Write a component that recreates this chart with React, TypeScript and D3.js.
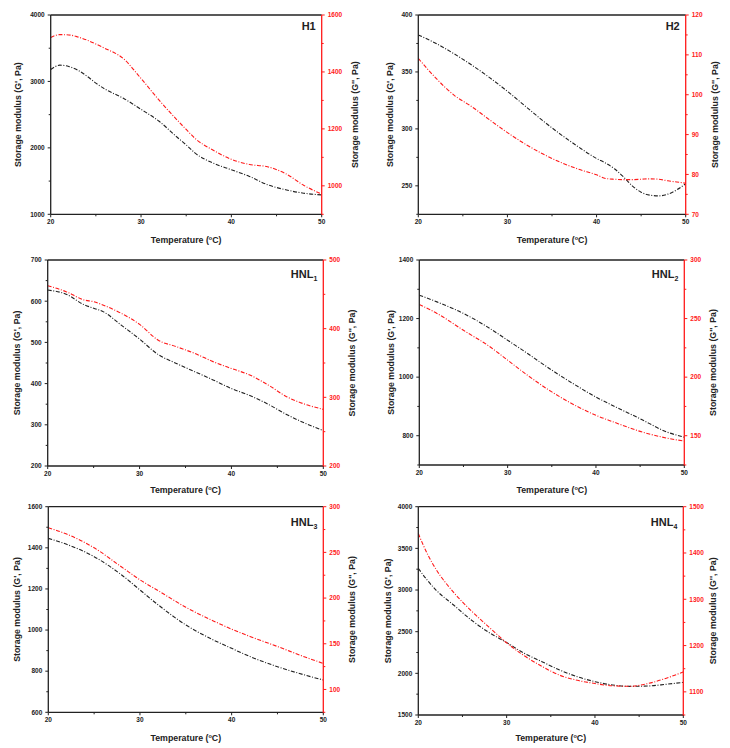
import React from "react";
import * as d3 from "d3";

// ---------- data ----------
const h1Temp = [20, 21, 22, 23, 24, 25, 26, 28, 30, 32, 34, 35, 36, 38, 40, 42, 44, 46, 48, 50];
const h1GPrime = [3180, 3245, 3225, 3170, 3080, 2975, 2885, 2750, 2580, 2400, 2160, 2045, 1920, 1770, 1670, 1570, 1445, 1370, 1318, 1292];
const h1GDouble = [1521, 1531, 1530, 1523, 1512, 1498, 1483, 1448, 1377, 1301, 1231, 1198, 1166, 1125, 1093, 1075, 1067, 1043, 1002, 971];

const h2Temp = [20, 22, 24, 26, 28, 30, 32, 34, 36, 38, 40, 41, 42, 43, 44, 45, 46, 47, 48, 49, 50];
const h2GPrime = [382.5, 375, 366, 356, 345, 333, 320, 307, 295, 284, 274, 270, 265, 258, 250, 244.4, 241.8, 241.2, 242.7, 246.5, 251.8];
const h2GDouble = [109.1, 104.1, 99.9, 97.0, 93.7, 90.5, 87.6, 85.1, 83.0, 81.3, 79.9, 79.0, 78.8, 78.7, 78.7, 78.8, 78.9, 78.8, 78.4, 78.1, 77.8];

const hnl1Temp = [20, 22, 24, 25, 26, 28, 30, 32, 34, 36, 38, 40, 42, 44, 46, 48, 50];
const hnl1GPrime = [627, 617, 591, 583, 575, 542, 508, 471, 449, 429, 409, 388, 371, 350, 325, 304, 286];
const hnl1GDouble = [462.6, 453.9, 441.7, 439.3, 434.5, 422.3, 406.3, 383.5, 373.8, 364, 352, 342, 332.5, 318, 301, 290, 282.5];

const hnl2Temp = [20, 22, 25, 28, 30, 32, 35, 38, 40, 42, 45, 48, 50];
const hnl2GPrime = [1280, 1257, 1217.5, 1166, 1126, 1086, 1024, 967, 932, 901.5, 858, 813, 795];
const hnl2GDouble = [262, 254.4, 240, 225.9, 214.5, 203, 187.4, 174.5, 167.4, 161.7, 153.7, 148, 145.5];

const hnl3Temp = [20, 22, 25, 28, 30, 32, 35, 38, 40, 42, 45, 48, 50];
const hnl3GPrime = [1446, 1417, 1357, 1268, 1195, 1122, 1025, 952, 911, 871, 822, 781, 757];
const hnl3GDouble = [277, 270, 255, 234, 220, 208, 190, 175, 166, 158, 147, 135.5, 128.5];

const hnl4Temp = [20, 21, 22, 24, 26, 28, 30, 32, 34, 36, 38, 40, 42, 44, 46, 48, 50];
const hnl4GPrime = [3260, 3120, 3000, 2820, 2640, 2490, 2370, 2240, 2140, 2040, 1960, 1900, 1860, 1844, 1848, 1868, 1892];
const hnl4GDouble = [1442, 1399, 1365, 1315, 1275, 1240, 1206, 1178, 1155, 1136, 1125, 1118, 1113, 1112, 1118, 1129, 1143];

const xTicks = [20, 30, 40, 50];
const xMinor = [25, 35, 45];

const h1LeftTicks = [1000, 2000, 3000, 4000];
const h1RightTicks = [1000, 1200, 1400, 1600];
const h2LeftTicks = [250, 300, 350, 400];
const h2RightTicks = [70, 80, 90, 100, 110, 120];
const hnl1LeftTicks = [200, 300, 400, 500, 600, 700];
const hnl1RightTicks = [200, 300, 400, 500];
const hnl2LeftTicks = [800, 1000, 1200, 1400];
const hnl2RightTicks = [150, 200, 250, 300];
const hnl3LeftTicks = [600, 800, 1000, 1200, 1400, 1600];
const hnl3RightTicks = [100, 150, 200, 250, 300];
const hnl4LeftTicks = [1500, 2000, 2500, 3000, 3500, 4000];
const hnl4RightTicks = [1100, 1200, 1300, 1400, 1500];

const titles = ["H1", "H2", "HNL", "HNL", "HNL", "HNL"];
const titleSubs = ["", "", "1", "2", "3", "4"];

// ---------- layout ----------
const panels = [
  { temp: h1Temp, g1: h1GPrime, g2: h1GDouble, lt: h1LeftTicks, rt: h1RightTicks, ld: [1000, 4000], rd: [900, 1600],
    box: { l: 50.7, r: 321.7, t: 15, b: 214.3 }, ylx: 18, yrx: 355, xly: 243, ty: 30 },
  { temp: h2Temp, g1: h2GPrime, g2: h2GDouble, lt: h2LeftTicks, rt: h2RightTicks, ld: [225, 400], rd: [70, 120],
    box: { l: 418.3, r: 685.7, t: 15, b: 214.3 }, ylx: 390, yrx: 715, xly: 243, ty: 30 },
  { temp: hnl1Temp, g1: hnl1GPrime, g2: hnl1GDouble, lt: hnl1LeftTicks, rt: hnl1RightTicks, ld: [200, 700], rd: [200, 500],
    box: { l: 47.7, r: 323.3, t: 260, b: 466 }, ylx: 17, yrx: 352, xly: 493, ty: 278 },
  { temp: hnl2Temp, g1: hnl2GPrime, g2: hnl2GDouble, lt: hnl2LeftTicks, rt: hnl2RightTicks, ld: [700, 1400], rd: [125, 300],
    box: { l: 419.3, r: 684.3, t: 260, b: 465 }, ylx: 391, yrx: 713, xly: 493, ty: 278 },
  { temp: hnl3Temp, g1: hnl3GPrime, g2: hnl3GDouble, lt: hnl3LeftTicks, rt: hnl3RightTicks, ld: [600, 1600], rd: [75, 300],
    box: { l: 48.3, r: 323.3, t: 506.7, b: 712.3 }, ylx: 17, yrx: 352, xly: 741, ty: 526 },
  { temp: hnl4Temp, g1: hnl4GPrime, g2: hnl4GDouble, lt: hnl4LeftTicks, rt: hnl4RightTicks, ld: [1500, 4000], rd: [1050, 1500],
    box: { l: 418.3, r: 683.3, t: 506.7, b: 715 }, ylx: 388, yrx: 713, xly: 741, ty: 526 },
];

const FONT = "'Liberation Sans', Arial, sans-serif";
const RED = "#ff1a1a";
const DARK = "#222";

function minorTicks(ticks: number[], domain: number[]) {
  const step = ticks[1] - ticks[0];
  const out: number[] = [];
  for (let i = 0; i < ticks.length; i++) {
    const m = ticks[i] - step / 2;
    if (m >= domain[0] - 1e-9 && m <= domain[1] + 1e-9) out.push(m);
  }
  const last = ticks[ticks.length - 1] + step / 2;
  if (last <= domain[1]) out.push(last);
  return out;
}

function Panel({ p, i }: { p: any; i: number }) {
  const { l, r, t, b } = p.box;
  const x = d3.scaleLinear().domain([20, 50]).range([l, r]);
  const yL = d3.scaleLinear().domain(p.ld).range([b, t]);
  const yR = d3.scaleLinear().domain(p.rd).range([b, t]);
  const pts1 = p.temp.map((tv: number, k: number) => [tv, p.g1[k]]);
  const pts2 = p.temp.map((tv: number, k: number) => [tv, p.g2[k]]);
  const line1 = d3.line<number[]>().x((d) => x(d[0])).y((d) => yL(d[1])).curve(d3.curveMonotoneX);
  const line2 = d3.line<number[]>().x((d) => x(d[0])).y((d) => yR(d[1])).curve(d3.curveMonotoneX);
  const dash = "4,1.6,1,1.6";
  const cx = (l + r) / 2;
  const cy = (t + b) / 2;
  return (
    <g>
      <path d={line1(pts1) || ""} fill="none" stroke={DARK} strokeWidth={1.1} strokeDasharray={dash} />
      <path d={line2(pts2) || ""} fill="none" stroke={RED} strokeWidth={1.1} strokeDasharray={dash} />
      {/* frame */}
      <line x1={l} x2={r} y1={t} y2={t} stroke={DARK} strokeWidth={1.3} />
      <line x1={l} x2={r} y1={b} y2={b} stroke={DARK} strokeWidth={1.3} />
      <line x1={l} x2={l} y1={t} y2={b} stroke={DARK} strokeWidth={1.3} />
      <line x1={r} x2={r} y1={t} y2={b + 1} stroke={RED} strokeWidth={1.3} />
      {/* x ticks */}
      {xTicks.map((v) => (
        <g key={"x" + v}>
          <line x1={x(v)} x2={x(v)} y1={b} y2={b + 3} stroke={DARK} strokeWidth={1} />
          <text x={x(v)} y={b + 10} fontSize={6.5} fontWeight="bold" textAnchor="middle" fill={DARK} fontFamily={FONT}>{v}</text>
        </g>
      ))}
      {xMinor.map((v) => (
        <line key={"xm" + v} x1={x(v)} x2={x(v)} y1={b} y2={b + 2} stroke={DARK} strokeWidth={1} />
      ))}
      {/* left ticks */}
      {p.lt.map((v: number) => (
        <g key={"l" + v}>
          <line x1={l - 3} x2={l} y1={yL(v)} y2={yL(v)} stroke={DARK} strokeWidth={1} />
          <text x={l - 6} y={yL(v) + 2.3} fontSize={6.5} fontWeight="bold" textAnchor="end" fill={DARK} fontFamily={FONT}>{v}</text>
        </g>
      ))}
      {minorTicks(p.lt, p.ld).map((v) => (
        <line key={"lm" + v} x1={l - 2} x2={l} y1={yL(v)} y2={yL(v)} stroke={DARK} strokeWidth={1} />
      ))}
      {/* right ticks */}
      {p.rt.map((v: number) => (
        <g key={"r" + v}>
          <line x1={r} x2={r + 3} y1={yR(v)} y2={yR(v)} stroke={RED} strokeWidth={1} />
          <text x={r + 6} y={yR(v) + 2.3} fontSize={6.5} fontWeight="bold" textAnchor="start" fill={RED} fontFamily={FONT}>{v}</text>
        </g>
      ))}
      {minorTicks(p.rt, p.rd).map((v) => (
        <line key={"rm" + v} x1={r} x2={r + 2} y1={yR(v)} y2={yR(v)} stroke={RED} strokeWidth={1} />
      ))}
      {/* axis titles */}
      <text x={cx} y={p.xly} fontSize={8.8} fontWeight="bold" textAnchor="middle" fill={DARK} fontFamily={FONT}>
        Temperature (<tspan fontSize={5.5} dy={-3.5}>o</tspan><tspan dy={3.5}>C)</tspan>
      </text>
      <text transform={`translate(${p.ylx},${cy}) rotate(-90)`} fontSize={8.8} fontWeight="bold" textAnchor="middle" dy={3} fill={DARK} fontFamily={FONT}>
        Storage modulus (G', Pa)
      </text>
      <text transform={`translate(${p.yrx},${cy}) rotate(-90)`} fontSize={8.8} fontWeight="bold" textAnchor="middle" dy={3} fill={DARK} fontFamily={FONT}>
        Storage modulus (G'', Pa)
      </text>
      {/* panel title */}
      <text x={r - 6} y={p.ty} fontSize={11} fontWeight="bold" textAnchor="end" fill={DARK} fontFamily={FONT}>
        {titles[i]}
        {titleSubs[i] ? <tspan fontSize={7} dy={2.5}>{titleSubs[i]}</tspan> : null}
      </text>
    </g>
  );
}

export default function App() {
  return (
    <svg width={730} height={748} viewBox="0 0 730 748" style={{ position: "absolute", left: 0, top: 0, background: "#fff" }}>
      <rect x={0} y={0} width={730} height={748} fill="#fff" />
      {panels.map((p, i) => (
        <Panel key={i} p={p} i={i} />
      ))}
    </svg>
  );
}
